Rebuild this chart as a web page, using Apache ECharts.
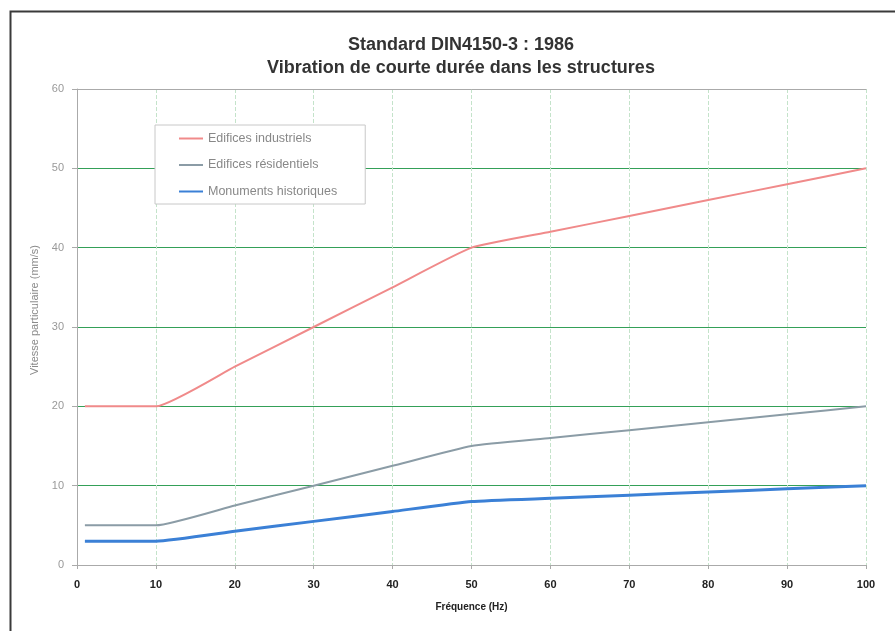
<!DOCTYPE html>
<html>
<head>
<meta charset="utf-8">
<script src="https://cdn.jsdelivr.net/npm/echarts@6/dist/echarts.min.js"></script>
<style>html,body{margin:0;padding:0;background:#fff;}#c{width:895px;height:631px;}</style>
</head>
<body>
<div id="c"></div>
<script>
var titleLines = ['Standard DIN4150-3 : 1986', 'Vibration de courte durée dans les structures'];
var xName = 'Fréquence (Hz)';
var yName = 'Vitesse particulaire (mm/s)';
var seriesNames = ['Edifices industriels', 'Edifices résidentiels', 'Monuments historiques'];
var freq = [1, 10, 20, 30, 40, 50, 60, 70, 80, 90, 100];
var industriels = [20, 20, 25, 30, 35, 40, 42, 44, 46, 48, 50];
var residentiels = [5, 5, 7.5, 10, 12.5, 15, 16, 17, 18, 19, 20];
var historiques = [3, 3, 4.25, 5.5, 6.75, 8, 8.4, 8.8, 9.2, 9.6, 10];

function pairs(xs, ys) { return xs.map(function (x, i) { return [x, ys[i]]; }); }

var chart = echarts.init(document.getElementById('c'), null, {renderer: 'canvas'});
var font = 'Arial, "Liberation Sans", sans-serif';
var colors = ['#f08a8a', '#8b9ca6', '#3b80d6'];
chart.setOption({
  backgroundColor: '#fff',
  animation: false,
  graphic: [{
    type: 'rect', left: 8, top: 9, shape: {width: 1000, height: 800},
    style: {fill: 'none', stroke: '#3a3a3a', lineWidth: 2}, silent: true
  }],
  title: {
    text: titleLines.join('\n'),
    left: 456, top: 29, textAlign: 'center',
    textStyle: {fontFamily: font, fontWeight: 'bold', fontSize: 18, color: '#333', lineHeight: 23}
  },
  legend: {
    orient: 'vertical', left: 155, top: 125,
    padding: [7, 28, 6, 24], itemGap: 13.5, itemWidth: 24, itemHeight: 2,
    icon: 'rect',
    borderColor: '#c8c8c8', borderWidth: 1, backgroundColor: '#fff',
    textStyle: {fontFamily: font, fontSize: 12.5, color: '#888', lineHeight: 12},
    data: seriesNames.map(function (n, i) { return {name: n, itemStyle: {color: colors[i]}}; })
  },
  grid: {left: 77, right: 29, top: 89, bottom: 66},
  xAxis: [{
    type: 'value', min: 0, max: 100, interval: 10,
    name: xName, nameLocation: 'middle', nameGap: 37,
    nameTextStyle: {fontFamily: font, fontWeight: 'bold', fontSize: 10, color: '#222'},
    axisLine: {lineStyle: {color: '#aaa'}},
    axisTick: {show: true, length: 4, lineStyle: {color: '#aaa'}},
    axisLabel: {fontFamily: font, fontWeight: 'bold', fontSize: 11, color: '#222', margin: 14},
    splitLine: {show: true, lineStyle: {color: '#c4e3ca', type: 'dashed', width: 1}}
  }, {
    type: 'value', min: 0, max: 100, interval: 10, position: 'top',
    axisLine: {show: true, lineStyle: {color: '#aaa'}},
    axisTick: {show: false}, axisLabel: {show: false}, splitLine: {show: false}
  }],
  yAxis: {
    type: 'value', min: 0, max: 60, interval: 10,
    name: yName, nameLocation: 'middle', nameGap: 35,
    nameTextStyle: {fontFamily: font, fontSize: 11, color: '#8a8a8a', padding: [0, 0, 0, 34]},
    axisLine: {show: true, lineStyle: {color: '#aaa'}},
    axisTick: {show: true, length: 5, lineStyle: {color: '#aaa'}},
    axisLabel: {fontFamily: font, fontSize: 11, color: '#999', margin: 13},
    splitLine: {show: true, lineStyle: {color: '#34a058', width: 1}}
  },
  series: [
    {name: seriesNames[0], type: 'line', data: pairs(freq, industriels), symbol: 'none', smooth: 0.15,
     lineStyle: {color: colors[0], width: 2}, itemStyle: {color: colors[0]}},
    {name: seriesNames[1], type: 'line', data: pairs(freq, residentiels), symbol: 'none', smooth: 0.15,
     lineStyle: {color: colors[1], width: 2}, itemStyle: {color: colors[1]}},
    {name: seriesNames[2], type: 'line', data: pairs(freq, historiques), symbol: 'none', smooth: 0.15,
     lineStyle: {color: colors[2], width: 3}, itemStyle: {color: colors[2]}}
  ]
});
</script>
</body>
</html>
